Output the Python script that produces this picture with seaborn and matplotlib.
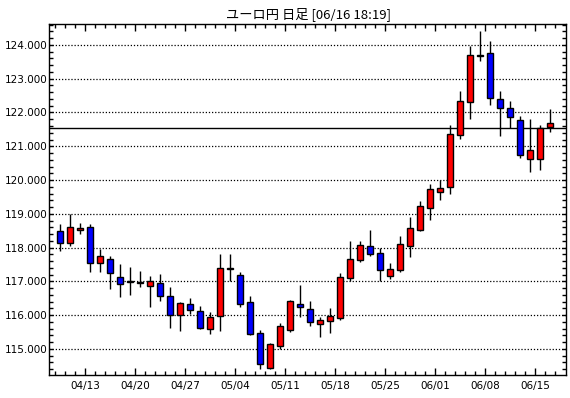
import matplotlib
matplotlib.use("Agg")
import matplotlib.pyplot as plt
import seaborn as sns
import numpy as np
import pandas as pd
from matplotlib.ticker import FixedLocator, MultipleLocator, FuncFormatter

# ---------------- data ----------------
dates = ["04/08", "04/09", "04/10",
         "04/13", "04/14", "04/15", "04/16", "04/17",
         "04/20", "04/21", "04/22", "04/23", "04/24",
         "04/27", "04/28", "04/29", "04/30", "05/01",
         "05/04", "05/05", "05/06", "05/07", "05/08",
         "05/11", "05/12", "05/13", "05/14", "05/15",
         "05/18", "05/19", "05/20", "05/21", "05/22",
         "05/25", "05/26", "05/27", "05/28", "05/29",
         "06/01", "06/02", "06/03", "06/04", "06/05",
         "06/08", "06/09", "06/10", "06/11", "06/12",
         "06/15", "06/16"]
opens = [118.50, 118.13, 118.52, 118.61, 117.54, 117.66, 117.13, 116.99, 116.96, 116.85,
         116.95, 116.56, 116.00, 116.33, 116.12, 115.60, 115.99, 117.39, 117.19, 116.39,
         115.48, 114.45, 115.10, 115.56, 116.33, 116.18, 115.75, 115.84, 115.91, 117.11,
         117.63, 118.04, 117.84, 117.17, 117.33, 118.06, 118.51, 119.16, 119.66, 119.79,
         121.32, 122.31, 123.71, 123.76, 122.40, 122.13, 121.79, 120.62, 120.62, 121.57]
highs = [118.71, 119.01, 118.73, 118.70, 117.96, 117.75, 117.52, 117.43, 117.32, 117.16,
         117.22, 116.84, 116.39, 116.51, 116.28, 116.10, 117.80, 117.80, 117.28, 116.57,
         115.56, 115.17, 115.77, 116.45, 116.88, 116.42, 115.96, 116.22, 117.25, 118.21,
         118.21, 118.53, 118.00, 117.54, 118.35, 118.91, 119.39, 119.89, 120.00, 121.64,
         122.63, 123.96, 124.42, 124.13, 122.63, 122.35, 121.90, 121.82, 121.63, 122.11]
lows = [117.91, 118.06, 118.40, 117.29, 117.29, 116.79, 116.55, 116.61, 116.83, 116.23,
        116.43, 115.63, 115.54, 116.05, 115.60, 115.45, 115.54, 117.00, 116.25, 115.40,
        114.42, 114.42, 115.00, 115.49, 115.96, 115.68, 115.34, 115.48, 115.86, 117.00,
        117.56, 117.74, 117.00, 117.08, 117.29, 117.71, 118.48, 118.83, 119.42, 119.60,
        121.22, 121.82, 123.51, 122.21, 121.29, 121.54, 120.64, 120.25, 120.31, 121.41]
closes = [118.13, 118.61, 118.58, 117.54, 117.75, 117.24, 116.92, 116.97, 116.94, 117.02,
          116.56, 116.00, 116.36, 116.15, 115.63, 115.94, 117.40, 117.36, 116.33, 115.43,
          114.55, 115.15, 115.67, 116.41, 116.24, 115.79, 115.86, 115.97, 117.13, 117.66,
          118.07, 117.81, 117.33, 117.37, 118.10, 118.58, 119.23, 119.73, 119.76, 121.36,
          122.35, 123.70, 123.67, 122.43, 122.13, 121.87, 120.74, 120.89, 121.54, 121.69]
current_price = 121.55
title = "ユーロ円 日足 [06/16 18:19]"
monday_labels = ["04/13", "04/20", "04/27", "05/04", "05/11",
                 "05/18", "05/25", "06/01", "06/08", "06/15"]

df = pd.DataFrame({"date": dates, "open": opens, "high": highs,
                   "low": lows, "close": closes})
df["x"] = np.arange(len(df))

# ---------------- style ----------------
sns.set_theme(style="white")
plt.rcParams["font.family"] = ["DejaVu Sans"]

fig = plt.figure(figsize=(5.7, 3.98), dpi=100)
ax = fig.add_axes([49.3 / 570, 1 - 375 / 398, (566 - 49.3) / 570, (375 - 24.3) / 398])
ax.set_facecolor("white")

# grid lines (dotted) at integer prices
for v in range(115, 125):
    ax.axhline(v, color="black", lw=0.9, ls=(0, (1, 1.5)), zorder=1)
ax.axhline(current_price, color="black", lw=1.0, zorder=1)

# wicks
ax.vlines(df["x"], df["low"], df["high"], color="black", lw=1.0, zorder=2)

# bodies
up = df["close"] > df["open"]
colors = np.where(up, "#FF0000", "#0000FF")
bottoms = np.minimum(df["open"], df["close"])
heights = np.maximum(np.abs(df["close"] - df["open"]), 0.03)
ax.bar(df["x"], heights, bottom=bottoms, width=0.66, color=colors,
       edgecolor="black", linewidth=1.0, zorder=3)

ax.set_xlim(-1.07, 50.6)
ax.set_ylim(114.23, 124.61)

# x ticks
day_idx = {d: i for i, d in enumerate(dates)}
major_pos = [day_idx[m] - 0.5 for m in monday_labels]
ax.xaxis.set_major_locator(FixedLocator(major_pos))
ax.set_xticklabels(monday_labels)
ax.xaxis.set_minor_locator(FixedLocator([i - 0.5 for i in range(len(dates))] + [len(dates) - 0.5]))

# y ticks
ax.yaxis.set_major_locator(MultipleLocator(1.0))
ax.yaxis.set_minor_locator(MultipleLocator(0.2))
ax.yaxis.set_major_formatter(FuncFormatter(lambda v, p: f"{v:.3f}"))

ax.tick_params(axis="both", which="both", direction="in", color="black",
               top=True, right=True, bottom=True, left=True, width=1.0)
ax.tick_params(axis="x", which="major", length=5, pad=4, labelsize=7.5, labelcolor="black")
ax.tick_params(axis="x", which="minor", length=2.7)
ax.tick_params(axis="y", which="major", length=3, pad=1.5, labelsize=7.5, labelcolor="black")
ax.tick_params(axis="y", which="minor", length=3)
ax.tick_params(labelright=False, labeltop=False)

for s in ax.spines.values():
    s.set_visible(True)
    s.set_color("black")
    s.set_linewidth(1.0)

fig.text(308 / 570, 1 - 14.5 / 398, title, ha="center", va="center", fontsize=9.5,
         family=["Noto Sans CJK JP", "DejaVu Sans"], color="black")

fig.savefig("out.png", dpi=100, facecolor="white")
